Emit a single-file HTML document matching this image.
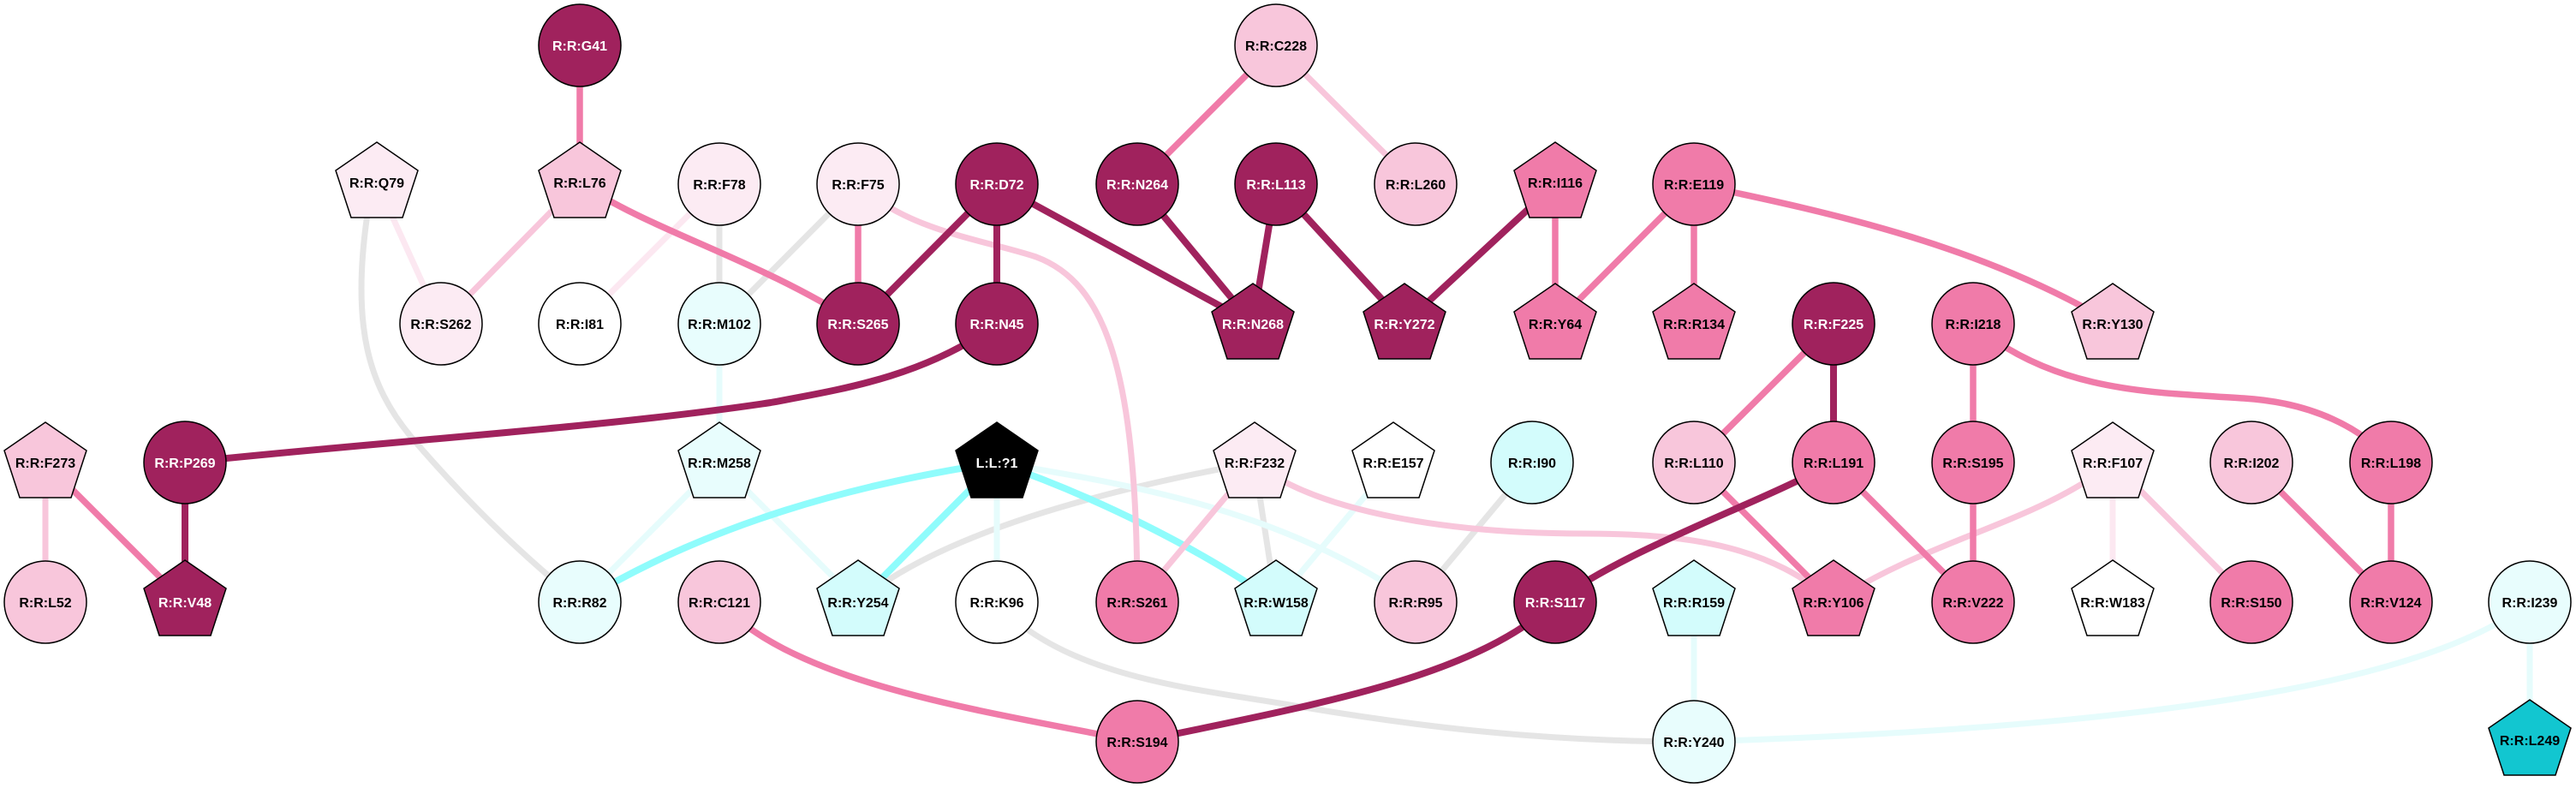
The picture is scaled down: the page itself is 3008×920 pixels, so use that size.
<!DOCTYPE html>
<html>
<head>
<meta charset="utf-8">
<style>
html,body{margin:0;padding:0;background:#ffffff;}
svg{display:block;}
text{font-family:"Liberation Sans",Arial,sans-serif;font-size:16px;font-weight:bold;text-anchor:middle;}
</style>
</head>
<body>
<svg width="3008" height="920" viewBox="0 0 3008 920" xmlns="http://www.w3.org/2000/svg">
<rect width="3008" height="920" fill="#ffffff"/>
<defs>
<polygon id="pent" points="0,-47 48,-14 30,41 -30,41 -48,-14"/>
</defs>
<g fill="none" stroke-linecap="butt">
<!-- grey -->
<g stroke="#e5e5e5" stroke-width="7">
<path d="M429,250 C410,380 430,450 480,510 C540,580 600,640 677,703"/>
<path d="M840,215 L840,378"/>
<path d="M1002,215 L840,378"/>
<path d="M1465,540 C1300,570 1100,620 1002,703"/>
<path d="M1465,540 L1490,703"/>
<path d="M1789,540 L1653,703"/>
<path d="M1164,703 C1240,790 1400,805 1500,822 C1650,848 1800,866 1978,866"/>
</g>
<!-- light cyan -->
<g stroke="#e6fcfc" stroke-width="7">
<path d="M840,378 L840,540"/>
<path d="M840,540 L677,703"/>
<path d="M840,540 L1002,703"/>
<path d="M1164,540 L1164,703"/>
<path d="M1164,540 C1350,570 1500,600 1653,703"/>
<path d="M1627,540 L1490,703"/>
<path d="M1978,703 L1978,866"/>
<path d="M2954,703 L2954,866"/>
<path d="M2954,703 C2830,800 2500,850 1978,866"/>
</g>
<!-- cyan -->
<g stroke="#8ffcfc" stroke-width="8">
<path d="M1164,540 C1000,565 830,610 677,703"/>
<path d="M1164,540 L1002,703"/>
<path d="M1164,540 C1280,580 1400,640 1490,703"/>
</g>
<!-- very light pink -->
<g stroke="#fce8f1" stroke-width="7">
<path d="M440,213 L515,378"/>
<path d="M840,215 L677,378"/>
<path d="M2467,540 L2467,703"/>
</g>
<!-- light pink -->
<g stroke="#f8c6db" stroke-width="7">
<path d="M677,213 L515,378"/>
<path d="M1002,215 C1060,270 1150,280 1210,300 C1290,330 1328,430 1328,703"/>
<path d="M1490,53 L1653,215"/>
<path d="M53,540 L53,703"/>
<path d="M1465,540 L1328,703"/>
<path d="M1465,540 C1540,600 1700,623 1850,623 C1980,623 2070,640 2141,703"/>
<path d="M2467,540 C2380,610 2250,630 2141,703"/>
<path d="M2467,540 L2629,703"/>
</g>
<!-- medium pink -->
<g stroke="#f07ba9" stroke-width="7.5">
<path d="M677,53 L677,213"/>
<path d="M677,213 C760,270 880,300 1002,378"/>
<path d="M1002,215 L1002,378"/>
<path d="M1490,53 L1328,215"/>
<path d="M1816,215 L1816,378"/>
<path d="M1978,215 L1816,378"/>
<path d="M1978,215 L1978,378"/>
<path d="M1978,215 C2150,250 2320,290 2467,378"/>
<path d="M2141,378 L1978,540"/>
<path d="M2304,378 L2304,540"/>
<path d="M2304,378 C2400,460 2520,458 2620,465 C2700,470 2760,500 2792,540"/>
<path d="M53,540 L216,703"/>
<path d="M1978,540 L2141,703"/>
<path d="M2141,540 L2304,703"/>
<path d="M2304,540 L2304,703"/>
<path d="M2629,540 L2792,703"/>
<path d="M2792,540 L2792,703"/>
<path d="M840,703 C930,800 1150,830 1328,866"/>
</g>
<!-- dark -->
<g stroke="#a0225d" stroke-width="8">
<path d="M1164,215 L1002,378"/>
<path d="M1164,215 L1164,378"/>
<path d="M1164,215 L1463,378"/>
<path d="M1328,215 L1463,378"/>
<path d="M1490,215 L1463,378"/>
<path d="M1490,215 L1640,378"/>
<path d="M1816,215 L1640,378"/>
<path d="M2141,378 L2141,540"/>
<path d="M1164,378 C1080,440 980,455 900,470 C700,500 450,515 216,540"/>
<path d="M216,540 L216,703"/>
<path d="M2141,540 C2050,590 1900,640 1816,703"/>
<path d="M1816,703 C1720,790 1550,820 1328,866"/>
</g>
</g>

<g stroke="#000000" stroke-width="1.5">
<!-- Row 1 -->
<circle cx="677" cy="53" r="48" fill="#a0225d"/>
<circle cx="1490" cy="53" r="48" fill="#f8c6db"/>
<!-- Row 2 -->
<use href="#pent" x="440" y="213" fill="#fcebf3"/>
<use href="#pent" x="677" y="213" fill="#f8c6db"/>
<circle cx="840" cy="215" r="48" fill="#fcebf3"/>
<circle cx="1002" cy="215" r="48" fill="#fcebf3"/>
<circle cx="1164" cy="215" r="48" fill="#a0225d"/>
<circle cx="1328" cy="215" r="48" fill="#a0225d"/>
<circle cx="1490" cy="215" r="48" fill="#a0225d"/>
<circle cx="1653" cy="215" r="48" fill="#f8c6db"/>
<use href="#pent" x="1816" y="213" fill="#f07ba9"/>
<circle cx="1978" cy="215" r="48" fill="#f07ba9"/>
<!-- Row 3 -->
<circle cx="515" cy="378" r="48" fill="#fcebf3"/>
<circle cx="677" cy="378" r="48" fill="#ffffff"/>
<circle cx="840" cy="378" r="48" fill="#e8fdfd"/>
<circle cx="1002" cy="378" r="48" fill="#a0225d"/>
<circle cx="1164" cy="378" r="48" fill="#a0225d"/>
<use href="#pent" x="1463" y="378" fill="#a0225d"/>
<use href="#pent" x="1640" y="378" fill="#a0225d"/>
<use href="#pent" x="1816" y="378" fill="#f07ba9"/>
<use href="#pent" x="1978" y="378" fill="#f07ba9"/>
<circle cx="2141" cy="378" r="48" fill="#a0225d"/>
<circle cx="2304" cy="378" r="48" fill="#f07ba9"/>
<use href="#pent" x="2467" y="378" fill="#f8c6db"/>
<!-- Row 4 -->
<use href="#pent" x="53" y="540" fill="#f8c6db"/>
<circle cx="216" cy="540" r="48" fill="#a0225d"/>
<use href="#pent" x="840" y="540" fill="#e8fdfd"/>
<use href="#pent" x="1164" y="540" fill="#000000"/>
<use href="#pent" x="1465" y="540" fill="#fcebf3"/>
<use href="#pent" x="1627" y="540" fill="#ffffff"/>
<circle cx="1789" cy="540" r="48" fill="#d3fcfc"/>
<circle cx="1978" cy="540" r="48" fill="#f8c6db"/>
<circle cx="2141" cy="540" r="48" fill="#f07ba9"/>
<circle cx="2304" cy="540" r="48" fill="#f07ba9"/>
<use href="#pent" x="2467" y="540" fill="#fcebf3"/>
<circle cx="2629" cy="540" r="48" fill="#f8c6db"/>
<circle cx="2792" cy="540" r="48" fill="#f07ba9"/>
<!-- Row 5 -->
<circle cx="53" cy="703" r="48" fill="#f8c6db"/>
<use href="#pent" x="216" y="701" fill="#a0225d"/>
<circle cx="677" cy="703" r="48" fill="#e8fdfd"/>
<circle cx="840" cy="703" r="48" fill="#f8c6db"/>
<use href="#pent" x="1002" y="701" fill="#d3fcfc"/>
<circle cx="1164" cy="703" r="48" fill="#ffffff"/>
<circle cx="1328" cy="703" r="48" fill="#f07ba9"/>
<use href="#pent" x="1490" y="701" fill="#d3fcfc"/>
<circle cx="1653" cy="703" r="48" fill="#f8c6db"/>
<circle cx="1816" cy="703" r="48" fill="#a0225d"/>
<use href="#pent" x="1978" y="701" fill="#d3fcfc"/>
<use href="#pent" x="2141" y="701" fill="#f07ba9"/>
<circle cx="2304" cy="703" r="48" fill="#f07ba9"/>
<use href="#pent" x="2467" y="701" fill="#ffffff"/>
<circle cx="2629" cy="703" r="48" fill="#f07ba9"/>
<circle cx="2792" cy="703" r="48" fill="#f07ba9"/>
<circle cx="2954" cy="703" r="48" fill="#e8fdfd"/>
<!-- Row 6 -->
<circle cx="1328" cy="866" r="48" fill="#f07ba9"/>
<circle cx="1978" cy="866" r="48" fill="#e8fdfd"/>
<use href="#pent" x="2954" y="864" fill="#12c6d0"/>
</g>

<!-- labels -->
<g fill="#ffffff">
<text x="677" y="59">R:R:G41</text>
<text x="1164" y="221">R:R:D72</text>
<text x="1328" y="221">R:R:N264</text>
<text x="1490" y="221">R:R:L113</text>
<text x="1002" y="384">R:R:S265</text>
<text x="1164" y="384">R:R:N45</text>
<text x="1463" y="384">R:R:N268</text>
<text x="1640" y="384">R:R:Y272</text>
<text x="2141" y="384">R:R:F225</text>
<text x="216" y="546">R:R:P269</text>
<text x="1164" y="546">L:L:?1</text>
<text x="216" y="709">R:R:V48</text>
<text x="1816" y="709">R:R:S117</text>
</g>
<g fill="#000000">
<text x="1490" y="59">R:R:C228</text>
<text x="440" y="219">R:R:Q79</text>
<text x="677" y="219">R:R:L76</text>
<text x="840" y="221">R:R:F78</text>
<text x="1002" y="221">R:R:F75</text>
<text x="1653" y="221">R:R:L260</text>
<text x="1816" y="219">R:R:I116</text>
<text x="1978" y="221">R:R:E119</text>
<text x="515" y="384">R:R:S262</text>
<text x="677" y="384">R:R:I81</text>
<text x="840" y="384">R:R:M102</text>
<text x="1816" y="384">R:R:Y64</text>
<text x="1978" y="384">R:R:R134</text>
<text x="2304" y="384">R:R:I218</text>
<text x="2467" y="384">R:R:Y130</text>
<text x="53" y="546">R:R:F273</text>
<text x="840" y="546">R:R:M258</text>
<text x="1465" y="546">R:R:F232</text>
<text x="1627" y="546">R:R:E157</text>
<text x="1789" y="546">R:R:I90</text>
<text x="1978" y="546">R:R:L110</text>
<text x="2141" y="546">R:R:L191</text>
<text x="2304" y="546">R:R:S195</text>
<text x="2467" y="546">R:R:F107</text>
<text x="2629" y="546">R:R:I202</text>
<text x="2792" y="546">R:R:L198</text>
<text x="53" y="709">R:R:L52</text>
<text x="677" y="709">R:R:R82</text>
<text x="840" y="709">R:R:C121</text>
<text x="1002" y="709">R:R:Y254</text>
<text x="1164" y="709">R:R:K96</text>
<text x="1328" y="709">R:R:S261</text>
<text x="1490" y="709">R:R:W158</text>
<text x="1653" y="709">R:R:R95</text>
<text x="1978" y="709">R:R:R159</text>
<text x="2141" y="709">R:R:Y106</text>
<text x="2304" y="709">R:R:V222</text>
<text x="2467" y="709">R:R:W183</text>
<text x="2629" y="709">R:R:S150</text>
<text x="2792" y="709">R:R:V124</text>
<text x="2954" y="709">R:R:I239</text>
<text x="1328" y="872">R:R:S194</text>
<text x="1978" y="872">R:R:Y240</text>
<text x="2954" y="870">R:R:L249</text>
</g>
</svg>
</body>
</html>
